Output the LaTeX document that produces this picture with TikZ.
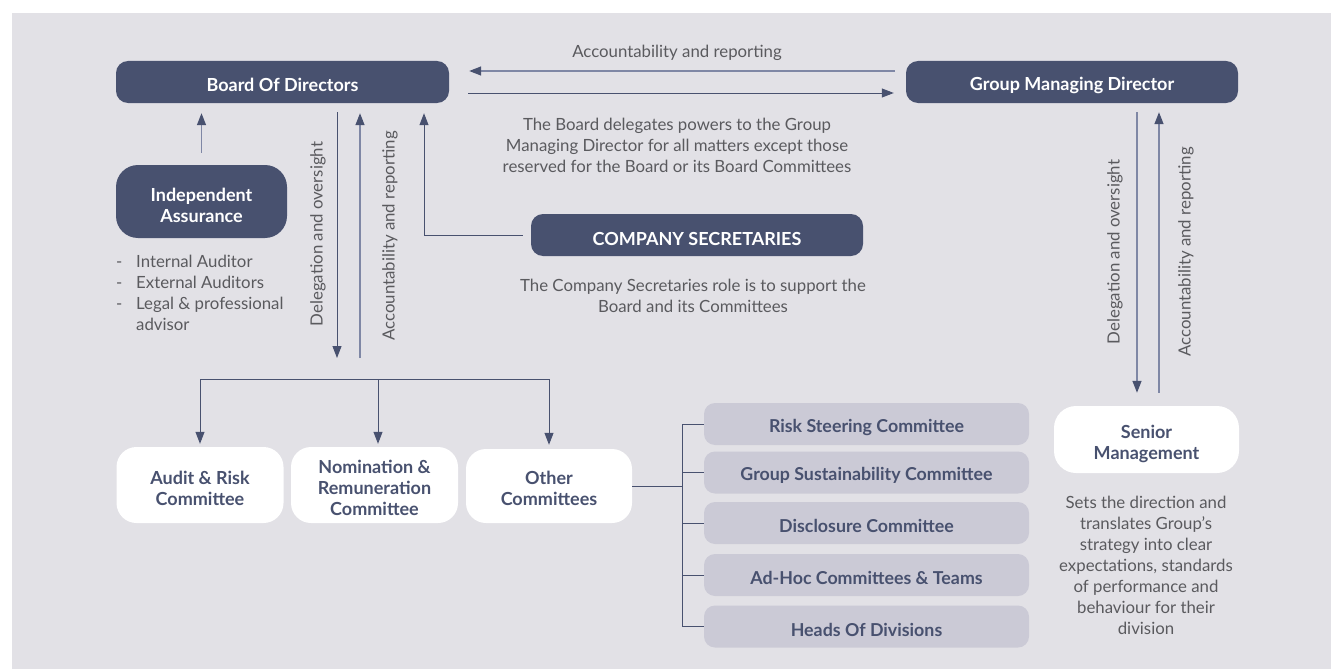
\documentclass[tikz,border=0pt]{standalone}
\usepackage{fontspec}
\setmainfont{Lato}
\usetikzlibrary{arrows.meta,calc}
\definecolor{panel}{HTML}{E2E1E6}
\definecolor{navy}{HTML}{48516F}
\definecolor{lightline}{HTML}{7F87A5}
\definecolor{lightbox}{HTML}{CBCAD6}
\definecolor{desc}{HTML}{5A5A5E}
\begin{document}
\begin{tikzpicture}[x=1pt,y=-1pt,
  darkbox/.style={fill=navy,inner sep=0pt,rounded corners=12pt},
  whitebox/.style={fill=white,inner sep=0pt,rounded corners=20pt},
  greybox/.style={fill=lightbox,inner sep=0pt,rounded corners=11pt,minimum width=325pt,minimum height=42pt},
  lblwhite/.style={text=white,font=\fontsize{18}{21}\selectfont\bfseries,align=center,inner sep=0pt},
  lblnavy/.style={text=navy,font=\fontsize{18}{21}\selectfont\bfseries,align=center,inner sep=0pt},
  lblgrey/.style={text=navy,font=\fontsize{17.8}{21}\selectfont\bfseries,align=center,inner sep=0pt},
  desctext/.style={text=desc,font=\fontsize{16.8}{21}\selectfont,align=center,inner sep=0pt},
  arr/.style={draw=navy,line width=1pt,-{Triangle[length=12pt,width=9pt]}},
  arrlight/.style={draw=lightline,line width=1.4pt,-{Triangle[length=12pt,width=9pt,color=navy]}},
  plain/.style={draw=navy,line width=1pt},
]
\useasboundingbox (0,0) rectangle (1331,669);
\fill[panel] (12,13) rectangle (1331,669);

% main boxes
\node[darkbox,minimum width=333pt,minimum height=42pt] (board) at (282.5,82) {};
\node[lblwhite] (boardt) at ([yshift=-3pt]board.center) {Board Of Directors};
\node[darkbox,minimum width=332pt,minimum height=42pt] (gmd) at (1072,82) {};
\node[lblwhite] (gmdt) at ([yshift=-3pt]gmd.center) {Group Managing Director};
\node[darkbox,minimum width=171pt,minimum height=73pt,rounded corners=22pt] (ia) at (201.5,201.5) {};
\node[lblwhite] (iat) at ([yshift=-3.5pt]ia.center) {Independent\\Assurance};
\node[darkbox,minimum width=332pt,minimum height=42pt] (cs) at (697,235) {};
\node[lblwhite] (cst) at ([yshift=-3.5pt]cs.center) {COMPANY SECRETARIES};

% committees
\node[whitebox,minimum width=167pt,minimum height=76pt] (audit) at (200,485) {};
\node[lblnavy] (auditt) at ([yshift=-3pt]audit.center) {Audit \& Risk\\Committee};
\node[whitebox,minimum width=167pt,minimum height=76pt] (nom) at (374.5,485) {};
\node[lblnavy] (nomt) at ([yshift=-3pt]nom.center) {Nomination \&\\Remuneration\\Committee};
\node[whitebox,minimum width=166pt,minimum height=74pt] (other) at (549,486) {};
\node[lblnavy] (othert) at ([yshift=-2.5pt]other.center) {Other\\Committees};

\node[greybox] (risk) at (866.5,424) {};
\node[lblgrey] (riskt) at ([yshift=-3pt]risk.center) {Risk Steering Committee};
\node[greybox] (gsc) at (866.5,472.5) {};
\node[lblgrey] (gsct) at ([yshift=-3pt]gsc.center) {Group Sustainability Committee};
\node[greybox] (disc) at (866.5,523) {};
\node[lblgrey] (disct) at ([yshift=-3pt]disc.center) {Disclosure Committee};
\node[greybox] (adhoc) at (866.5,575) {};
\node[lblgrey] (adhoct) at ([yshift=-3pt]adhoc.center) {Ad-Hoc Committees \& Teams};
\node[greybox] (heads) at (866.5,626.5) {};
\node[lblgrey] (headst) at ([yshift=-3pt]heads.center) {Heads Of Divisions};

\node[whitebox,minimum width=185pt,minimum height=67pt,rounded corners=22pt] (senior) at (1146.5,439.5) {};
\node[lblnavy] (seniort) at ([yshift=-4.5pt]senior.center) {Senior\\Management};

% texts
\node[desctext] (acclbl) at (677,53) {Accountability and reporting};
\node[desctext] (deltext) at (677,145) {The Board delegates powers to the Group\\Managing Director for all matters except those\\reserved for the Board or its Board Committees};
\node[desctext] (cstext) at (693,295.5) {The Company Secretaries role is to support the\\Board and its Committees};
\node[desctext] (sentext) at (1146,565.5) {Sets the direction and\\translates Group’s\\strategy into clear\\expectations, standards\\of performance and\\behaviour for their\\division};
\node[desctext,align=left,anchor=north west] (ialist) at (116,255) {\makebox[20pt][l]{-}Internal Auditor\\\makebox[20pt][l]{-}External Auditors\\\makebox[20pt][l]{-}Legal \& professional\\\hspace*{20pt}advisor};

% rotated labels
\node[desctext,rotate=90] (lbl1) at (318,234) {Delegation and oversight};
\node[desctext,rotate=90] (lbl2) at (390,236) {Accountability and reporting};
\node[desctext,rotate=90] (lbl3) at (1115,252) {Delegation and oversight};
\node[desctext,rotate=90] (lbl4) at (1186,252) {Accountability and reporting};

% horizontal arrows between board and gmd
\draw[arrlight,shorten <=11pt,shorten >=20pt] ([yshift=11pt]gmd.west) -- ([yshift=11pt]board.east);
\draw[arr,shorten <=19pt,shorten >=12pt] ([yshift=-11pt]board.east) -- ([yshift=-11pt]gmd.west);

% IA to board
\draw[arrlight,shorten <=12pt,shorten >=10pt] (ia.north) -- (board.south -| ia.north);

% board vertical arrows
\coordinate (bd1) at (337,358);
\coordinate (ba1) at (360,358);
\draw[arr,shorten <=9pt] (board.south -| bd1) -- (bd1);
\draw[arrlight,shorten >=10pt] (ba1) -- (board.south -| ba1);

% company secretaries to board
\coordinate (csx) at (424,0);
\draw[arr,shorten <=8pt,shorten >=10pt] (cs.west) -| (board.south -| csx);

% committee branch
\coordinate (br) at (378,379);
\draw[plain] (audit.north |- br) -- (other.north |- br);
\draw[arr,shorten >=3pt] (audit.north |- br) -- (audit.north);
\draw[arr,shorten >=3pt] (br) -- (nom.north -| br);
\draw[arr,shorten >=4pt] (other.north |- br) -- (other.north);

% other committees bracket
\coordinate (bx) at (682,0);
\draw[plain] (other.east) -- (other.east -| bx);
\draw[plain] (risk.west -| bx) -- (heads.west -| bx);
\foreach \n in {risk,gsc,disc,adhoc,heads}{
  \draw[plain] (\n.west -| bx) -- (\n.west);
}

% gmd to senior
\coordinate (gx1) at (1137,0);
\coordinate (gx2) at (1159,0);
\draw[arrlight,shorten <=9pt,shorten >=13pt] (gmd.south -| gx1) -- (senior.north -| gx1);
\draw[arrlight,shorten <=13pt,shorten >=9pt] (senior.north -| gx2) -- (gmd.south -| gx2);
\end{tikzpicture}
\end{document}
